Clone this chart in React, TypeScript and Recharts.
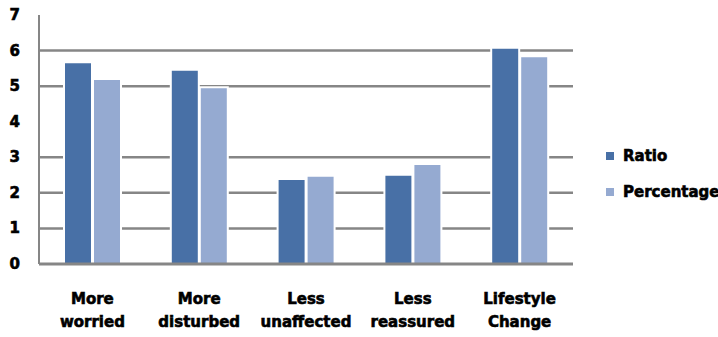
import { Bar, BarChart, CartesianGrid, XAxis, YAxis } from "recharts";

const categories = ["More\nworried", "More\ndisturbed", "Less\nunaffected", "Less\nreassured", "Lifestyle\nChange"];
const ratio = [5.67, 5.46, 2.39, 2.51, 6.08];
const percentage = [5.2, 4.97, 2.48, 2.81, 5.84];
const yTicks = [0, 1, 2, 3, 4, 5, 6, 7];
const gridValues = [1, 2, 3, 5, 6];

const RATIO_COLOR = "#4870A6";
const PCT_COLOR = "#95AAD1";
const AXIS_COLOR = "#868686";
const FONT = "'DejaVu Sans', Verdana, sans-serif";

const data = categories.map((name, i) => ({
  name,
  Ratio: ratio[i],
  Percentage: percentage[i],
}));

// heavy black labels, thickened with a thin outline
const labelStyle = {
  fontFamily: FONT,
  fontWeight: "bold" as const,
  fontSize: 15,
  fill: "#000",
  stroke: "#000",
  strokeWidth: 0.6,
};

function CategoryTick({ x, y, payload }: any) {
  const lines = String(payload.value).split("\n");
  return (
    <text x={x} y={y} textAnchor="middle" {...labelStyle}>
      {lines.map((line, i) => (
        <tspan key={line} x={x} dy={i === 0 ? 32 : 23}>
          {line}
        </tspan>
      ))}
    </text>
  );
}

function ValueTick({ x, y, payload }: any) {
  return (
    <text x={x} y={y} textAnchor="end" dominantBaseline="central" {...labelStyle}>
      {payload.value}
    </text>
  );
}

const legendItems = [
  { label: "Ratio", color: RATIO_COLOR },
  { label: "Percentage", color: PCT_COLOR },
];

export default function App() {
  return (
    <div style={{ position: "absolute", left: 0, top: 0, width: 718, height: 337, background: "#fff" }}>
      <BarChart
        width={718}
        height={337}
        data={data}
        margin={{ top: 15, right: 145, bottom: 0, left: 0 }}
        barSize={28}
        barGap={1}
      >
        <CartesianGrid
          vertical={false}
          horizontalValues={gridValues}
          stroke={AXIS_COLOR}
          strokeWidth={2.5}
        />
        <XAxis
          dataKey="name"
          height={73}
          axisLine={{ stroke: AXIS_COLOR, strokeWidth: 3 }}
          tickLine={false}
          tick={<CategoryTick />}
          interval={0}
        />
        <YAxis
          width={39}
          domain={[0, 7]}
          ticks={yTicks}
          axisLine={{ stroke: AXIS_COLOR, strokeWidth: 2 }}
          tickLine={false}
          tick={<ValueTick />}
          tickMargin={13}
        />
        <Bar dataKey="Ratio" fill={RATIO_COLOR} stroke="#fff" strokeWidth={2} isAnimationActive={false} />
        <Bar dataKey="Percentage" fill={PCT_COLOR} stroke="#fff" strokeWidth={2} isAnimationActive={false} />
      </BarChart>
      <div style={{ position: "absolute", left: 606, top: 144 }}>
        {legendItems.map((item) => (
          <div
            key={item.label}
            style={{
              display: "flex",
              alignItems: "center",
              height: 24,
              marginBottom: 12,
              fontFamily: FONT,
              fontWeight: "bold",
              fontSize: 15,
              color: "#000",
              WebkitTextStroke: "0.6px #000",
            }}
          >
            <span style={{ width: 8, height: 8, background: item.color, marginRight: 9 }} />
            {item.label}
          </div>
        ))}
      </div>
    </div>
  );
}
